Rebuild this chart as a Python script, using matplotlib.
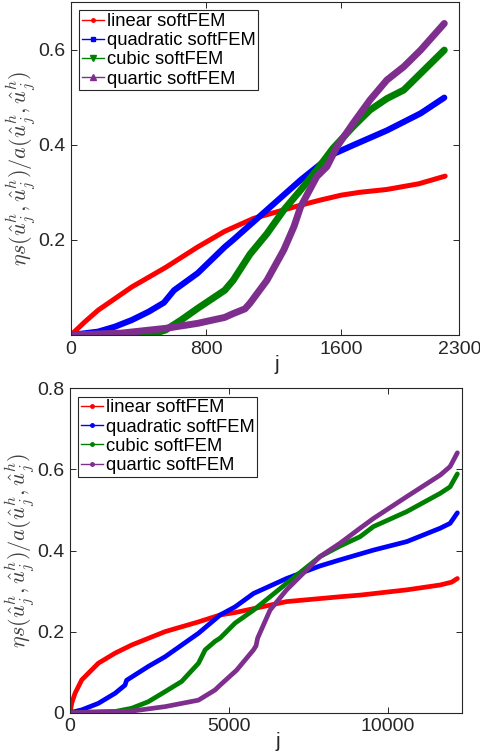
import matplotlib
matplotlib.use('Agg')
import matplotlib.pyplot as plt
from matplotlib.lines import Line2D

plt.rcParams['font.family'] = ['Liberation Sans', 'DejaVu Sans']
plt.rcParams['mathtext.fontset'] = 'cm'

# ---- top panel data ----
j_lin_top = [0, 80, 160, 360, 560, 750, 910, 1080, 1360, 1480, 1600, 1710, 1870, 2060, 2215]
v_lin_top = [0, 0.027, 0.052, 0.101, 0.142, 0.185, 0.218, 0.245, 0.273, 0.284, 0.294, 0.300, 0.306, 0.318, 0.334]

j_quad_top = [0, 160, 260, 360, 460, 550, 610, 750, 910, 960, 1160, 1360, 1550, 1670, 1870, 2070, 2210]
v_quad_top = [0, 0.007, 0.0175, 0.0315, 0.049, 0.068, 0.094, 0.13, 0.185, 0.2, 0.263, 0.326, 0.38, 0.399, 0.43, 0.466, 0.499]

j_cub_top = [0, 300, 500, 560, 650, 750, 910, 960, 1060, 1160, 1260, 1360, 1455, 1550, 1670, 1770, 1870, 1970, 2070, 2210]
v_cub_top = [0, 0.001, 0.004, 0.0105, 0.031, 0.056, 0.094, 0.115, 0.17, 0.213, 0.263, 0.305, 0.347, 0.392, 0.438, 0.473, 0.497, 0.515, 0.55, 0.599]

j_qrt_top = [0, 300, 560, 750, 910, 960, 1030, 1060, 1160, 1260, 1320, 1360, 1455, 1515, 1575, 1670, 1770, 1870, 1970, 2070, 2210]
v_qrt_top = [0, 0.004, 0.014, 0.0245, 0.037, 0.045, 0.055, 0.067, 0.115, 0.179, 0.228, 0.27, 0.333, 0.354, 0.396, 0.445, 0.494, 0.536, 0.564, 0.599, 0.655]

# ---- bottom panel data ----
j_lin_bot = [0, 60, 160, 370, 890, 1420, 1940, 2990, 4040, 4720, 5190, 6810, 8490, 9120, 10590, 11640, 12000, 12180]
v_lin_bot = [0, 0.025, 0.048, 0.081, 0.122, 0.147, 0.167, 0.2, 0.224, 0.241, 0.247, 0.274, 0.286, 0.29, 0.303, 0.315, 0.322, 0.331]

j_quad_bot = [0, 370, 890, 1420, 1730, 1780, 2460, 2990, 4040, 4720, 5190, 5770, 6810, 7860, 8490, 9540, 10590, 11640, 11950, 12180]
v_quad_bot = [0, 0.007, 0.023, 0.048, 0.068, 0.08, 0.114, 0.138, 0.196, 0.241, 0.261, 0.294, 0.331, 0.362, 0.377, 0.401, 0.422, 0.455, 0.467, 0.493]

j_cub_bot = [0, 1420, 1940, 2460, 2990, 3510, 4040, 4250, 4560, 4720, 5190, 5770, 6810, 7860, 8490, 9120, 9540, 10590, 11640, 11950, 12180]
v_cub_bot = [0, 0.003, 0.011, 0.027, 0.052, 0.077, 0.122, 0.155, 0.176, 0.184, 0.221, 0.253, 0.319, 0.385, 0.411, 0.434, 0.459, 0.496, 0.541, 0.557, 0.589]

j_qrt_bot = [0, 1940, 2990, 4040, 4560, 4720, 5240, 5770, 5850, 5900, 6290, 6810, 7860, 8490, 9120, 9540, 10590, 11640, 11950, 12180]
v_qrt_bot = [0, 0.004, 0.015, 0.031, 0.056, 0.068, 0.105, 0.155, 0.165, 0.184, 0.253, 0.303, 0.385, 0.418, 0.455, 0.479, 0.533, 0.586, 0.607, 0.641]

labels = ['linear softFEM', 'quadratic softFEM', 'cubic softFEM', 'quartic softFEM']
colors = ['#ff0000', '#0000ff', '#008000', '#7e2f8e']
ylab = r'$\eta s(\hat{u}_j^h,\hat{u}_j^h)/a(\hat{u}_j^h,\hat{u}_j^h)$'

fig = plt.figure(figsize=(4.81, 7.53), dpi=100)
ax1 = fig.add_axes([0.1476, 0.5551, 0.8077, 0.4422])
ax2 = fig.add_axes([0.1455, 0.0535, 0.814, 0.4308])

top_sets = [(j_lin_top, v_lin_top), (j_quad_top, v_quad_top), (j_cub_top, v_cub_top), (j_qrt_top, v_qrt_top)]
top_lw = [3.6, 4.4, 5.0, 5.0]
top_mk = ['.', 's', 'v', '^']
for (jj, vv), c, lw in zip(top_sets, colors, top_lw):
    ax1.plot(jj, vv, color=c, lw=lw, solid_capstyle='round', solid_joinstyle='round')

bot_sets = [(j_lin_bot, v_lin_bot), (j_quad_bot, v_quad_bot), (j_cub_bot, v_cub_bot), (j_qrt_bot, v_qrt_bot)]
for (jj, vv), c in zip(bot_sets, colors):
    ax2.plot(jj, vv, color=c, lw=3.4, solid_capstyle='round', solid_joinstyle='round')

ax1.set_xlim(0, 2300)
ax1.set_ylim(0, 0.7)
ax1.set_xticks([0, 800, 1600, 2300])
ax1.set_yticks([0.2, 0.4, 0.6])
ax1.set_yticklabels(['0.2', '0.4', '0.6'])

ax2.set_xlim(0, 12310)
ax2.set_ylim(0, 0.8)
ax2.set_xticks([0, 5000, 10000])
ax2.set_yticks([0, 0.2, 0.4, 0.6, 0.8])
ax2.set_yticklabels(['0', '0.2', '0.4', '0.6', '0.8'])

for ax, mks, ms in [(ax1, top_mk, [5, 3, 4, 4]), (ax2, ['.'] * 4, [5] * 4)]:
    for s in ax.spines.values():
        s.set_color('#262626')
        s.set_linewidth(0.8)
    ax.tick_params(direction='in', length=4, width=0.7, top=True, right=True,
                   labelsize=14, colors='#262626', pad=4)
    ax.set_xlabel('j', fontsize=15, color='#262626')
    ax.xaxis.set_label_coords(0.53, -0.06)
    ax.set_ylabel(ylab, fontsize=16, color='#404040')
    ax.yaxis.set_label_coords(-0.085, 0.5)
    handles = [Line2D([], [], color=c, lw=1.0, marker=m, markersize=z)
               for c, m, z in zip(colors, mks, ms)]
    leg = ax.legend(handles, labels, loc='upper left', fontsize=13.2, handlelength=1.2,
                    handletextpad=0.15, labelspacing=0.12, borderpad=0.15,
                    borderaxespad=0.45, fancybox=False, framealpha=1)
    leg.get_frame().set_edgecolor('#262626')
    leg.get_frame().set_linewidth(0.8)

fig.savefig('out.png', dpi=100)
